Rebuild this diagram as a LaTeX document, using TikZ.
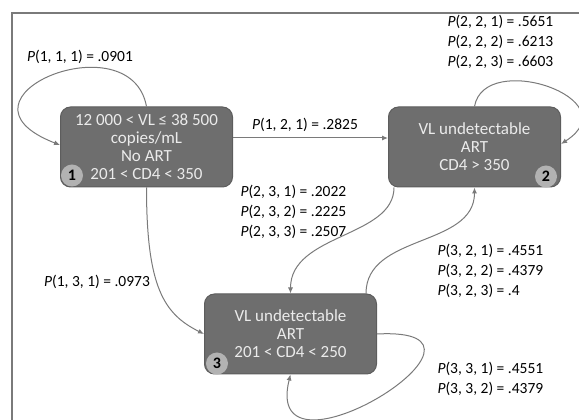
\documentclass[tikz,border=0pt]{standalone}
\usepackage{fontspec}
\setmainfont{Carlito}
\usepackage{xcolor}
\usepackage{tikz}
\usetikzlibrary{positioning,arrows.meta}

\definecolor{boxgray}{HTML}{6E6E6E}
\definecolor{edgegray}{HTML}{7A7A7A}
\definecolor{badgegray}{HTML}{B2B2B2}

\begin{document}
\begin{tikzpicture}[x=1pt, y=1pt, >={Latex[length=6pt,width=5pt]}, line width=1pt,
    state/.style={draw=boxgray!85!black, fill=boxgray, rounded corners=10pt, minimum width=172pt, minimum height=80pt, inner sep=2pt, text=white!92!black, align=center, font=\fontsize{17}{18}\selectfont},
    badge/.style={circle, fill=badgegray, minimum size=22pt, inner sep=0pt, font=\fontsize{16}{16}\selectfont\bfseries},
    prob/.style={align=left, inner sep=0pt, font=\fontsize{15.5}{20}\selectfont},
    link/.style={->, draw=edgegray}]

    \useasboundingbox (0,0) rectangle (579,420);
    \draw [edgegray, line width=1.2pt] (12,-20) rectangle (600,407);

    \node [state] (noart) at (146.5,273) {12 000 < VL ≤ 38 500\\copies/mL\\No ART\\201 < CD4 < 350};
    \node [state, right=155pt of noart] (high) {VL undetectable\\ART\\CD4 > 350};
    \node [state, below=106pt of noart, xshift=144pt] (low) {VL undetectable\\ART\\201 < CD4 < 250};

    \node [badge] (b1) at ([shift={(12,12)}]noart.south west) {1};
    \node [badge] (b2) at ([shift={(-15,11)}]high.south east) {2};
    \node [badge] (b3) at ([shift={(13,11)}]low.south west) {3};

    \node [prob] (p111) at (80,363) {\textit{P}(1, 1, 1) = .0901};
    \node [prob] (p121) at (305,295) {\textit{P}(1, 2, 1) = .2825};
    \node [prob] (p131) at (97,138) {\textit{P}(1, 3, 1) = .0973};
    \node [prob, anchor=west] (p22) at (447,378) {\textit{P}(2, 2, 1) = .5651\\\textit{P}(2, 2, 2) = .6213\\\textit{P}(2, 2, 3) = .6603};
    \node [prob, anchor=west] (p23) at (240,208) {\textit{P}(2, 3, 1) = .2022\\\textit{P}(2, 3, 2) = .2225\\\textit{P}(2, 3, 3) = .2507};
    \node [prob, anchor=west] (p32) at (437,149) {\textit{P}(3, 2, 1) = .4551\\\textit{P}(3, 2, 2) = .4379\\\textit{P}(3, 2, 3) = .4};
    \node [prob, anchor=west] (p33) at (437,41) {\textit{P}(3, 3, 1) = .4551\\\textit{P}(3, 3, 2) = .4379};

    \draw [link] ([yshift=9pt]noart.east) -- ([yshift=9pt]high.west);
    \draw [link] (noart.south) .. controls +(0,-100) and +(-40,20) .. (low.west);
    \draw [link] ([xshift=6pt]high.south west) .. controls +(0,-50) and +(0,60) .. (low.north);
    \draw [link] ([xshift=-11pt]low.north east) .. controls +(0,60) and +(0,-60) .. (high.south);

    % self loops
    \draw [link] (noart.north) .. controls +(-16,87) and +(-121,47) .. ([yshift=2pt]noart.west);
    \draw [link] (high.north) .. controls +(10,57) and +(70,45) .. ([yshift=3pt]high.east);
    \draw [link] (low.east) .. controls +(153,8) and +(-30,-120) .. (low.south);
\end{tikzpicture}
\end{document}
